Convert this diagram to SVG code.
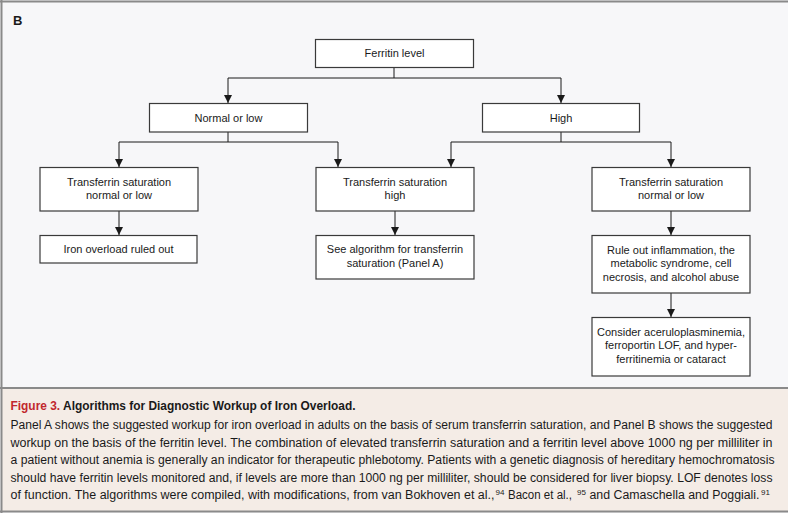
<svg xmlns="http://www.w3.org/2000/svg" width="788" height="513" viewBox="0 0 788 513">
<defs>
<style>
.box{fill:#ffffff;stroke:#3a3a3a;stroke-width:1.2}
.bt{font-family:"Liberation Sans",Arial,sans-serif;font-size:11px;fill:#1a1a1a;text-anchor:middle}
.cn{fill:none;stroke:#1a1a1a;stroke-width:1}
.cap{font-family:"Liberation Sans",Arial,sans-serif;font-size:12.5px;fill:#1a1a1a}
.capn{font-family:"Liberation Sans",Arial,sans-serif;font-size:12px;fill:#1a1a1a}
.sup{font-family:"Liberation Sans",Arial,sans-serif;font-size:8px;fill:#1a1a1a}
</style>
<marker id="ah" viewBox="0 0 8 10" refX="8" refY="5" markerWidth="8" markerHeight="10" markerUnits="userSpaceOnUse" orient="auto">
<path d="M0,1 L8,5 L0,9 Z" fill="#1a1a1a"/>
</marker>
</defs>
<rect x="0" y="0" width="788" height="513" fill="#f7f7f9"/>
<rect x="1.5" y="388" width="790" height="123" fill="#f4ece6"/>
<line x1="0" y1="1.5" x2="788" y2="1.5" stroke="#8a8a8a" stroke-width="2"/>
<line x1="1.5" y1="0" x2="1.5" y2="513" stroke="#8a8a8a" stroke-width="2"/>
<line x1="0" y1="388" x2="788" y2="388" stroke="#8a8a8a" stroke-width="2"/>
<line x1="0" y1="511.5" x2="788" y2="511.5" stroke="#8a8a8a" stroke-width="2"/>
<text x="13" y="25" font-family="Liberation Sans,Arial,sans-serif" font-size="13" font-weight="bold" fill="#1a1a1a">B</text>

<g id="connectors">
<path class="cn" d="M394,67 V78 M228,78 H561"/>
<path class="cn" d="M228,78 V103" marker-end="url(#ah)"/>
<path class="cn" d="M561,78 V103" marker-end="url(#ah)"/>
<path class="cn" d="M228,132 V142 M119,142 H338"/>
<path class="cn" d="M119,142 V167" marker-end="url(#ah)"/>
<path class="cn" d="M338,142 V167" marker-end="url(#ah)"/>
<path class="cn" d="M561,132 V142 M451,142 H671"/>
<path class="cn" d="M451,142 V167" marker-end="url(#ah)"/>
<path class="cn" d="M671,142 V167" marker-end="url(#ah)"/>
<path class="cn" d="M119,211 V235" marker-end="url(#ah)"/>
<path class="cn" d="M395,211 V235" marker-end="url(#ah)"/>
<path class="cn" d="M671,211 V235" marker-end="url(#ah)"/>
<path class="cn" d="M671,293 V317" marker-end="url(#ah)"/>
</g>

<g id="ferritin">
<rect class="box" x="315.5" y="39.5" width="158" height="28"/>
<text class="bt" x="394.5" y="57">Ferritin level</text>
</g>
<g id="normal-low">
<rect class="box" x="149.5" y="103.5" width="158" height="28.5"/>
<text class="bt" x="228.5" y="121.5">Normal or low</text>
</g>
<g id="high">
<rect class="box" x="482.5" y="103.5" width="157" height="28.5"/>
<text class="bt" x="561" y="121.5">High</text>
</g>
<g id="ts-normal-left">
<rect class="box" x="40" y="167.5" width="158" height="43.5"/>
<text class="bt" x="119" y="186">Transferrin saturation</text>
<text class="bt" x="119" y="199">normal or low</text>
</g>
<g id="ts-high">
<rect class="box" x="316" y="167.5" width="158" height="43.5"/>
<text class="bt" x="395" y="186">Transferrin saturation</text>
<text class="bt" x="395" y="199">high</text>
</g>
<g id="ts-normal-right">
<rect class="box" x="592" y="167.5" width="158" height="43.5"/>
<text class="bt" x="671" y="186">Transferrin saturation</text>
<text class="bt" x="671" y="199">normal or low</text>
</g>
<g id="ruled-out">
<rect class="box" x="40" y="235.5" width="157" height="27.5"/>
<text class="bt" x="118.5" y="253">Iron overload ruled out</text>
</g>
<g id="see-algorithm">
<rect class="box" x="316" y="235.5" width="158" height="43.5"/>
<text class="bt" x="395" y="253">See algorithm for transferrin</text>
<text class="bt" x="395" y="267">saturation (Panel A)</text>
</g>
<g id="rule-out">
<rect class="box" x="592" y="235.5" width="158" height="57.5"/>
<text class="bt" x="671" y="254">Rule out inflammation, the</text>
<text class="bt" x="671" y="267">metabolic syndrome, cell</text>
<text class="bt" x="671" y="280.5">necrosis, and alcohol abuse</text>
</g>
<g id="consider">
<rect class="box" x="592" y="317.5" width="158" height="58.5"/>
<text class="bt" x="671" y="336">Consider aceruloplasminemia,</text>
<text class="bt" x="671" y="349">ferroportin LOF, and hyper-</text>
<text class="bt" x="671" y="362.5">ferritinemia or cataract</text>
</g>

<g id="caption">
<text class="cap" x="10.5" y="410" font-weight="bold" font-size="13.5" textLength="345" lengthAdjust="spacingAndGlyphs"><tspan fill="#c1272d">Figure 3.</tspan> Algorithms for Diagnostic Workup of Iron Overload.</text>
<text class="capn" x="10.5" y="429" textLength="762" lengthAdjust="spacingAndGlyphs">Panel A shows the suggested workup for iron overload in adults on the basis of serum transferrin saturation, and Panel B shows the suggested</text>
<text class="capn" x="10.5" y="446.5" textLength="762" lengthAdjust="spacingAndGlyphs">workup on the basis of the ferritin level. The combination of elevated transferrin saturation and a ferritin level above 1000 ng per milliliter in</text>
<text class="capn" x="10.5" y="464" textLength="764" lengthAdjust="spacingAndGlyphs">a patient without anemia is generally an indicator for therapeutic phlebotomy. Patients with a genetic diagnosis of hereditary hemochromatosis</text>
<text class="capn" x="10.5" y="481.5" textLength="762" lengthAdjust="spacingAndGlyphs">should have ferritin levels monitored and, if levels are more than 1000 ng per milliliter, should be considered for liver biopsy. LOF denotes loss</text>
<text class="cap" x="10.5" y="499" textLength="484" lengthAdjust="spacingAndGlyphs">of function. The algorithms were compiled, with modifications, from van Bokhoven et al.,</text>
<text class="sup" x="495.5" y="494.5">94</text>
<text class="cap" x="508" y="499" textLength="64" lengthAdjust="spacingAndGlyphs">Bacon et al.,</text>
<text class="sup" x="577" y="494.5">95</text>
<text class="cap" x="589.5" y="499" textLength="170" lengthAdjust="spacingAndGlyphs">and Camaschella and Poggiali.</text>
<text class="sup" x="761" y="494.5">91</text>
</g>
</svg>
